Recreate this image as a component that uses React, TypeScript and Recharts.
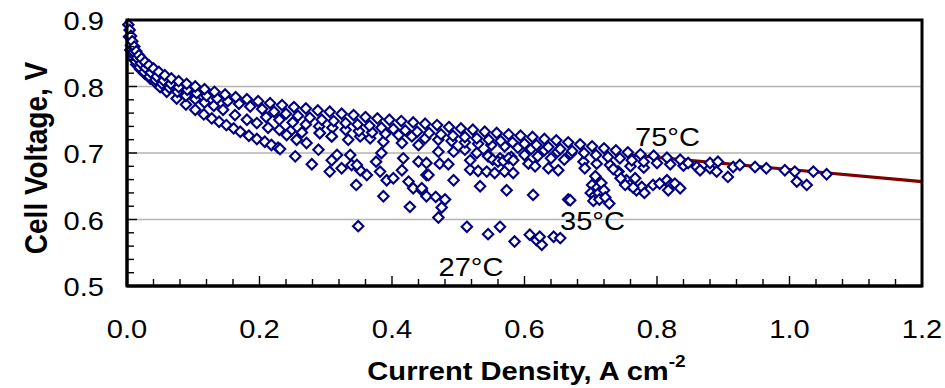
import React from 'react';
import {
  ComposedChart,
  Scatter,
  Line,
  XAxis,
  YAxis,
  CartesianGrid,
  Label,
} from 'recharts';

type P = [number, number];

// ---- data (current density A/cm2, cell voltage V) ----
const rowTop: P[] = [
  [0.002, 0.893], [0.004, 0.885], [0.006, 0.876], [0.008, 0.868], [0.011, 0.86], [0.014, 0.853],
  [0.018, 0.847], [0.022, 0.842], [0.027, 0.837], [0.033, 0.832], [0.04, 0.827], [0.048, 0.822],
  [0.057, 0.817], [0.067, 0.812], [0.078, 0.808], [0.09, 0.804], [0.103, 0.8], [0.117, 0.796],
  [0.132, 0.792], [0.148, 0.788], [0.164, 0.784], [0.181, 0.781], [0.198, 0.778], [0.216, 0.775],
  [0.234, 0.772], [0.252, 0.769], [0.27, 0.767], [0.288, 0.764], [0.306, 0.762], [0.324, 0.759],
  [0.342, 0.757], [0.36, 0.754], [0.378, 0.752], [0.396, 0.75], [0.414, 0.748], [0.432, 0.746],
  [0.45, 0.744], [0.468, 0.742], [0.486, 0.739], [0.504, 0.737], [0.522, 0.735], [0.54, 0.732],
  [0.558, 0.73], [0.576, 0.728], [0.594, 0.726], [0.612, 0.724], [0.63, 0.721], [0.648, 0.719],
  [0.666, 0.716], [0.684, 0.713], [0.702, 0.71], [0.72, 0.707], [0.738, 0.704], [0.756, 0.701],
  [0.775, 0.698], [0.795, 0.696], [0.815, 0.693], [0.835, 0.69], [0.847, 0.685], [0.865, 0.674],
  [0.88, 0.685], [0.892, 0.687], [0.915, 0.679], [0.925, 0.682], [0.948, 0.679], [0.965, 0.677],
  [0.993, 0.674], [1.008, 0.672], [1.011, 0.657], [1.026, 0.652], [1.036, 0.672], [1.056, 0.668],
  [0.907, 0.664], [0.89, 0.672],
];

const rowSecond: P[] = [
  [0.003, 0.875], [0.006, 0.862], [0.01, 0.852], [0.015, 0.843], [0.021, 0.835], [0.028, 0.828],
  [0.036, 0.821], [0.045, 0.815], [0.055, 0.809], [0.066, 0.804], [0.078, 0.799], [0.091, 0.795],
  [0.105, 0.79], [0.12, 0.786], [0.136, 0.782], [0.152, 0.778], [0.169, 0.774], [0.186, 0.77],
  [0.204, 0.766], [0.222, 0.762], [0.24, 0.759], [0.258, 0.756], [0.276, 0.753], [0.294, 0.75],
  [0.312, 0.748], [0.33, 0.745], [0.348, 0.743], [0.366, 0.741], [0.384, 0.738], [0.402, 0.736],
  [0.42, 0.734], [0.438, 0.732], [0.456, 0.73], [0.474, 0.728], [0.492, 0.726], [0.51, 0.724],
  [0.528, 0.722], [0.546, 0.72], [0.564, 0.718], [0.582, 0.716], [0.6, 0.714], [0.618, 0.712],
  [0.636, 0.709], [0.654, 0.706], [0.672, 0.703], [0.69, 0.7], [0.708, 0.697], [0.726, 0.694],
  [0.744, 0.692], [0.762, 0.689], [0.78, 0.687], [0.8, 0.685], [0.82, 0.683], [0.84, 0.681],
  [0.86, 0.679], [0.88, 0.677],
];

const rowThird: P[] = [
  [0.21, 0.754], [0.23, 0.75], [0.25, 0.746], [0.27, 0.743], [0.29, 0.74], [0.31, 0.738],
  [0.33, 0.735], [0.35, 0.733], [0.37, 0.731], [0.39, 0.729], [0.41, 0.727], [0.43, 0.725],
  [0.45, 0.722], [0.47, 0.72], [0.49, 0.718], [0.51, 0.716], [0.53, 0.714], [0.55, 0.712],
  [0.57, 0.71], [0.59, 0.708], [0.61, 0.706], [0.63, 0.704], [0.65, 0.702], [0.67, 0.699],
  [0.545, 0.695], [0.552, 0.69], [0.56, 0.687], [0.568, 0.688], [0.576, 0.692],
];

const rowFourth: P[] = [
  [0.008, 0.85], [0.013, 0.838], [0.019, 0.829], [0.026, 0.822], [0.034, 0.815], [0.043, 0.81],
  [0.053, 0.804], [0.064, 0.798], [0.076, 0.792], [0.089, 0.786], [0.103, 0.781], [0.117, 0.776],
  [0.131, 0.771], [0.145, 0.765], [0.163, 0.757], [0.181, 0.75], [0.196, 0.745], [0.213, 0.738],
  [0.23, 0.735], [0.247, 0.733], [0.264, 0.731], [0.291, 0.73], [0.309, 0.725], [0.334, 0.72],
  [0.352, 0.725], [0.367, 0.722], [0.387, 0.717], [0.415, 0.715], [0.44, 0.712], [0.47, 0.702],
  [0.493, 0.702], [0.51, 0.705], [0.528, 0.7], [0.545, 0.697], [0.563, 0.692], [0.58, 0.694],
  [0.6, 0.697], [0.62, 0.695], [0.64, 0.692], [0.66, 0.69], [0.689, 0.687], [0.709, 0.684],
  [0.729, 0.682], [0.742, 0.672], [0.691, 0.677], [0.76, 0.68], [0.78, 0.678],
];

const rowLowEdge: P[] = [
  [0.005, 0.855], [0.009, 0.843], [0.014, 0.833], [0.02, 0.826], [0.027, 0.819], [0.035, 0.812],
  [0.044, 0.805], [0.05, 0.799], [0.06, 0.792], [0.075, 0.782], [0.089, 0.773], [0.103, 0.765],
  [0.116, 0.758], [0.128, 0.752], [0.139, 0.747], [0.15, 0.742], [0.161, 0.737], [0.171, 0.732],
  [0.184, 0.726], [0.196, 0.721], [0.208, 0.717], [0.218, 0.712], [0.228, 0.708],
];

const scatter27: P[] = [
  [0.231, 0.706], [0.254, 0.695], [0.241, 0.727], [0.256, 0.72], [0.279, 0.683], [0.271, 0.715],
  [0.289, 0.705], [0.306, 0.672], [0.309, 0.689], [0.317, 0.697], [0.324, 0.677], [0.337, 0.697],
  [0.339, 0.682], [0.346, 0.652], [0.349, 0.59], [0.352, 0.674], [0.362, 0.667], [0.376, 0.687],
  [0.384, 0.7], [0.382, 0.672], [0.387, 0.635], [0.392, 0.659], [0.402, 0.662], [0.415, 0.674],
  [0.417, 0.692], [0.425, 0.657], [0.427, 0.619], [0.432, 0.647], [0.44, 0.687], [0.445, 0.644],
  [0.452, 0.667], [0.452, 0.635], [0.452, 0.685], [0.472, 0.684], [0.485, 0.683], [0.455, 0.667],
  [0.493, 0.659], [0.445, 0.647], [0.466, 0.634], [0.48, 0.63], [0.475, 0.618], [0.47, 0.603],
  [0.513, 0.589], [0.533, 0.65], [0.518, 0.675], [0.53, 0.673], [0.543, 0.672], [0.555, 0.67],
  [0.57, 0.672], [0.583, 0.67], [0.583, 0.689], [0.573, 0.644], [0.545, 0.578], [0.563, 0.589],
  [0.585, 0.567], [0.606, 0.684], [0.616, 0.68], [0.613, 0.637], [0.636, 0.677], [0.651, 0.674],
  [0.666, 0.63], [0.608, 0.577], [0.618, 0.569], [0.626, 0.562], [0.623, 0.574], [0.644, 0.574],
  [0.654, 0.572], [0.518, 0.689], [0.291, 0.73], [0.309, 0.725], [0.347, 0.682],
];

const scatter35: P[] = [
  [0.707, 0.665], [0.702, 0.652], [0.71, 0.648], [0.716, 0.655], [0.7, 0.64], [0.706, 0.636],
  [0.712, 0.64], [0.72, 0.644], [0.704, 0.628], [0.713, 0.63], [0.722, 0.633], [0.728, 0.624],
  [0.669, 0.629], [0.754, 0.659], [0.759, 0.652], [0.767, 0.662], [0.769, 0.644], [0.777, 0.649],
  [0.781, 0.64], [0.794, 0.652], [0.804, 0.654], [0.815, 0.659], [0.82, 0.652], [0.827, 0.654],
  [0.835, 0.647], [0.817, 0.644], [0.764, 0.648], [0.752, 0.652], [0.745, 0.662], [0.74, 0.672],
  [0.734, 0.676],
];

const fitLine: P[] = [[0.76, 0.697], [1.2, 0.657]];

const xTicks = [
  0, 0.04, 0.08, 0.12, 0.16, 0.2, 0.24, 0.28, 0.32, 0.36, 0.4, 0.44, 0.48, 0.52, 0.56, 0.6,
  0.64, 0.68, 0.72, 0.76, 0.8, 0.84, 0.88, 0.92, 0.96, 1.0, 1.04, 1.08, 1.12, 1.16, 1.2,
];
const yTicks = [
  0.5, 0.52, 0.54, 0.56, 0.58, 0.6, 0.62, 0.64, 0.66, 0.68, 0.7, 0.72, 0.74, 0.76, 0.78, 0.8,
  0.82, 0.84, 0.86, 0.88, 0.9,
];
const gridValues = [0.6, 0.7, 0.8];
const xDomain: [number, number] = [0, 1.2];
const yDomain: [number, number] = [0.5, 0.9];

const annotations = [
  { x: 0.8158, y: 0.7105, text: '75°C' },
  { x: 0.7026, y: 0.5842, text: '35°C' },
  { x: 0.5192, y: 0.515, text: '27°C' },
];

const xTitle = 'Current Density, A cm';
const xTitleSup = '-2';
const yTitle = 'Cell Voltage, V';

// ---- layout & styling ----
const CHART_W = 945;
const CHART_H = 388;
const MARGIN = { top: 20, right: 23, bottom: 2, left: 0 };
const Y_AXIS_W = 127;
const X_AXIS_H = 100;
const PLOT_L = MARGIN.left + Y_AXIS_W;
const PLOT_T = MARGIN.top;
const PLOT_R = CHART_W - MARGIN.right;
const PLOT_B = CHART_H - MARGIN.bottom - X_AXIS_H;

const FONT = "'Liberation Sans', Arial, Helvetica, sans-serif";
const NAVY = '#000080';
const INK = '#000000';
const SX = 1.12;

const allPoints = [rowLowEdge, rowFourth, rowThird, rowSecond, rowTop, scatter27, scatter35]
  .flat()
  .map(([x, y]) => ({ x, y }));
const fitPts = fitLine.map(([x, y]) => ({ x, y }));

const isMult = (v: number, step: number) => Math.abs(v / step - Math.round(v / step)) < 1e-6;

// frame overlay positions derived from the same plot box the chart uses
const fx = (v: number) => PLOT_L + ((v - xDomain[0]) / (xDomain[1] - xDomain[0])) * (PLOT_R - PLOT_L);
const fy = (v: number) => PLOT_B - ((v - yDomain[0]) / (yDomain[1] - yDomain[0])) * (PLOT_B - PLOT_T);

const Diamond = (props: any) => {
  const { cx, cy } = props;
  if (cx == null || cy == null || isNaN(cx) || isNaN(cy)) return null;
  const h = 5.2;
  return (
    <path
      d={`M${cx},${cy - h}L${cx + h},${cy}L${cx},${cy + h}L${cx - h},${cy}Z`}
      fill="#ffffff"
      stroke={NAVY}
      strokeWidth={2.1}
    />
  );
};

const AnnotationShape = (props: any) => {
  const { cx, cy, payload } = props;
  if (cx == null || cy == null || !payload) return null;
  return (
    <text
      transform={`translate(${cx},${cy}) scale(${SX},1)`}
      textAnchor="middle"
      fontFamily={FONT}
      fontSize={26}
      fill={INK}
    >
      {payload.text}
    </text>
  );
};

const XTick = (props: any) => {
  const { x, y, payload } = props;
  const v = payload.value as number;
  if (!isMult(v, 0.2)) return <g />;
  return (
    <text
      transform={`translate(${x},${y + 52}) scale(${SX},1)`}
      textAnchor="middle"
      fontFamily={FONT}
      fontSize={26}
      fill={INK}
    >
      {v.toFixed(1)}
    </text>
  );
};

const YTick = (props: any) => {
  const { x, y, payload } = props;
  const v = payload.value as number;
  if (!isMult(v, 0.1)) return <g />;
  return (
    <text
      transform={`translate(${x - 23},${y + 10}) scale(${SX},1)`}
      textAnchor="end"
      fontFamily={FONT}
      fontSize={26}
      fill={INK}
    >
      {v.toFixed(1)}
    </text>
  );
};

const XTitle = (props: any) => {
  const vb = props.viewBox || {};
  return (
    <text
      transform={`translate(${vb.x + vb.width / 2 + 2},${vb.y + 94}) scale(${SX},1)`}
      textAnchor="middle"
      fontFamily={FONT}
      fontWeight="bold"
      fontSize={26}
      fill={INK}
    >
      <tspan>{xTitle}</tspan>
      <tspan dy={-13} fontSize={17}>{xTitleSup}</tspan>
    </text>
  );
};

const YTitle = (props: any) => {
  const vb = props.viewBox || {};
  return (
    <text
      transform={`translate(${vb.x + 47},${vb.y + vb.height / 2 + 5}) rotate(-90) scale(1,1.1)`}
      textAnchor="middle"
      fontFamily={FONT}
      fontWeight="bold"
      fontSize={28}
      fill={INK}
    >
      {yTitle}
    </text>
  );
};

const FrameOverlay = () => (
  <svg
    width={CHART_W}
    height={CHART_H}
    style={{ position: 'absolute', left: 0, top: 0, pointerEvents: 'none', overflow: 'visible' }}
  >
    {xTicks.map((v, i) => (
      <line
        key={`xt${i}`}
        x1={fx(v)}
        x2={fx(v)}
        y1={PLOT_B}
        y2={PLOT_B - (isMult(v, 0.2) ? 10 : 7)}
        stroke={INK}
        strokeWidth={1.4}
      />
    ))}
    {yTicks.map((v, i) => (
      <line
        key={`yt${i}`}
        x1={PLOT_L}
        x2={PLOT_L + (isMult(v, 0.1) ? 10 : 7)}
        y1={fy(v)}
        y2={fy(v)}
        stroke={INK}
        strokeWidth={1.4}
      />
    ))}
    <rect
      x={PLOT_L}
      y={PLOT_T}
      width={PLOT_R - PLOT_L}
      height={PLOT_B - PLOT_T}
      fill="none"
      stroke={INK}
      strokeWidth={3}
    />
  </svg>
);

export default function App() {
  return (
    <div style={{ position: 'absolute', left: 0, top: 0, width: CHART_W, height: CHART_H, background: '#ffffff' }}>
      <ComposedChart width={CHART_W} height={CHART_H} margin={MARGIN}>
        <CartesianGrid
          horizontal
          vertical={false}
          horizontalValues={gridValues}
          stroke="#b4b4b4"
          strokeWidth={1.5}
        />
        <XAxis
          type="number"
          dataKey="x"
          domain={xDomain}
          ticks={xTicks}
          interval={0}
          tickSize={0}
          tickMargin={0}
          height={X_AXIS_H}
          axisLine={{ stroke: INK, strokeWidth: 3 }}
          tickLine={false}
          tick={<XTick />}
        >
          <Label content={<XTitle />} />
        </XAxis>
        <YAxis
          type="number"
          dataKey="y"
          domain={yDomain}
          ticks={yTicks}
          interval={0}
          tickSize={0}
          tickMargin={0}
          width={Y_AXIS_W}
          axisLine={{ stroke: INK, strokeWidth: 3 }}
          tickLine={false}
          tick={<YTick />}
        >
          <Label content={<YTitle />} />
        </YAxis>
        <Line
          data={fitPts}
          dataKey="y"
          stroke="#800000"
          strokeWidth={3.2}
          dot={false}
          activeDot={false}
          isAnimationActive={false}
          legendType="none"
        />
        <Scatter data={allPoints} dataKey="y" shape={<Diamond />} isAnimationActive={false} />
        <Scatter data={annotations} dataKey="y" shape={<AnnotationShape />} isAnimationActive={false} legendType="none" />
      </ComposedChart>
      <FrameOverlay />
    </div>
  );
}
